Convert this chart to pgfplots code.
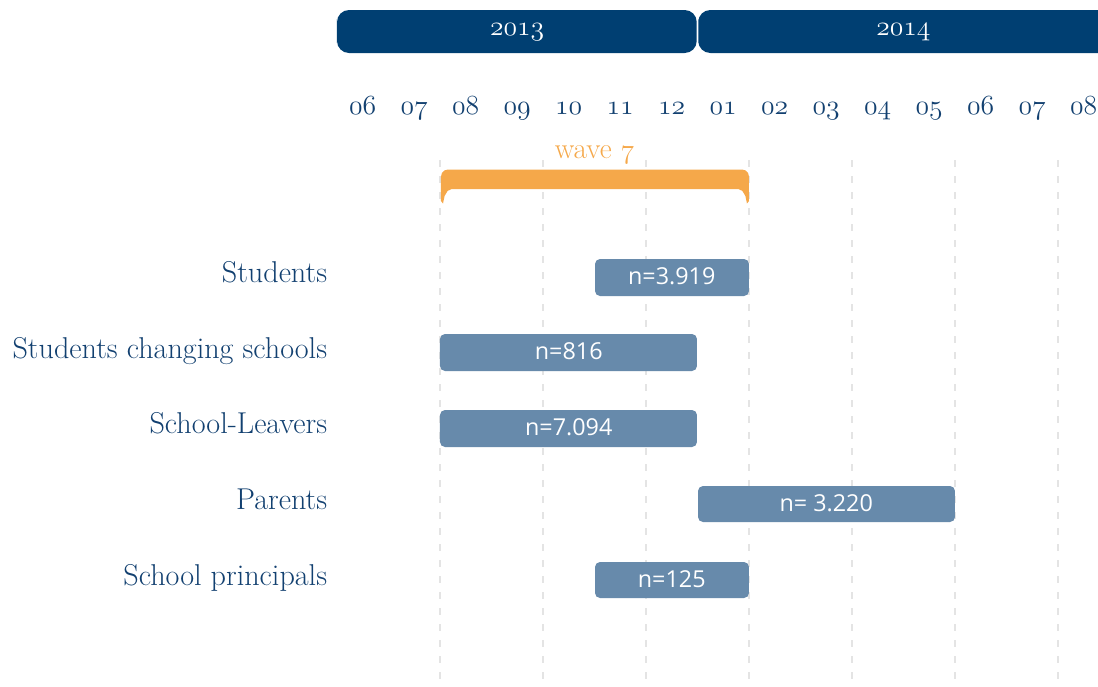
\documentclass[border=0pt]{standalone}
\usepackage{pgfplots}
\pgfplotsset{compat=1.18}
\usepackage{fontspec}
\newfontfamily\sansf{Open Sans}
\definecolor{yearblue}{RGB}{0,63,114}
\definecolor{textblue}{RGB}{18,64,112}
\definecolor{barblue}{RGB}{103,138,171}
\definecolor{waveorange}{RGB}{245,168,74}
\definecolor{gridc}{RGB}{228,228,228}
\newcommand\osn[1]{$\mathnormal{#1}$}
% x0, x1, ytop, ymid, ybottom, corner radius
\newcommand\ganttbar[6]{%
  \addplot[fill=barblue, draw=none, rounded corners=#6] coordinates {(#1,#4) (#1,#3) (#2,#3) (#2,#5) (#1,#5)} -- cycle;}
\begin{document}
\begin{tikzpicture}
\begin{axis}[
  name=ax, scale only axis, width=570.75pt, height=514.5pt,
  xmin=0, xmax=14.777, ymin=0, ymax=686, y dir=reverse,
  axis line style={draw=none}, major tick length=0pt,
  xtick=\empty,
  ytick={282,358,433,509,585},
  yticklabels={Students, Students changing schools, School-Leavers, Parents, School principals},
  yticklabel style={anchor=base east, font=\fontsize{22.6}{26}\selectfont, text=textblue, xshift=-3.9pt},
  clip=true, no markers,
]
% dashed grid
\pgfplotsinvokeforeach{2,4,6,8,10,12,14}{
  \addplot[gridc, line width=1.5pt, dash pattern=on 5.25pt off 6.75pt] coordinates {(#1,160) (#1,686)};
}
% year bars
\addplot[fill=yearblue, draw=none, rounded corners=9pt] coordinates {(0,31) (0,10) (6.985,10) (6.985,53) (0,53)} -- cycle;
\addplot[fill=yearblue, draw=none, rounded corners=9pt] coordinates {(7.015,31) (7.015,10) (15.3,10) (15.3,53) (7.015,53)} -- cycle;
\addplot[only marks, mark=none, point meta=explicit symbolic,
  nodes near coords={\osn{\pgfplotspointmeta}},
  every node near coord/.append style={anchor=base, text=white, font=\fontsize{20}{24}\selectfont}]
  table[meta=label] {
x y label
3.5 35 2013
11 35 2014
};
% months
\addplot[only marks, mark=none, point meta=explicit symbolic,
  nodes near coords={\osn{\pgfplotspointmeta}},
  every node near coord/.append style={anchor=base, text=textblue, font=\fontsize{20}{24}\selectfont}]
  table[meta=label] {
x y label
0.5 114 06
1.5 114 07
2.5 114 08
3.5 114 09
4.5 114 10
5.5 114 11
6.5 114 12
7.5 114 01
8.5 114 02
9.5 114 03
10.5 114 04
11.5 114 05
12.5 114 06
13.5 114 07
14.5 114 08
};
% wave bracket
\addplot[fill=waveorange, draw=none] coordinates {
  (2.0194,201) (2.0194,176.5) (2.0377,173) (2.0874,170.44) (2.1553,169.5)
  (7.8641,169.5) (7.9320,170.44) (7.9817,173) (8.0000,176.5) (8.0000,201)
  (7.9611,203.5) (7.9301,196) (7.8718,190.9) (7.7922,189)
  (2.2272,189) (2.1476,190.9) (2.0893,196) (2.0583,203.5)} -- cycle;
\addplot[only marks, mark=none, point meta=explicit symbolic,
  nodes near coords={wave \osn{\pgfplotspointmeta}},
  every node near coord/.append style={anchor=base, text=waveorange, font=\fontsize{22}{26}\selectfont}]
  table[meta=label] {
x y label
5 158 7
};
% gantt bars
\ganttbar{5.01}{8}{259}{277}{296}{3.75pt}
\ganttbar{2}{6.99}{334}{352}{371}{3.75pt}
\ganttbar{2}{6.99}{410}{428}{447}{3.75pt}
\ganttbar{7.01}{12}{486}{504}{522}{3.75pt}
\ganttbar{5.01}{8}{562}{580}{598}{3.75pt}
\addplot[only marks, mark=none, point meta=explicit symbolic,
  nodes near coords={\pgfplotspointmeta},
  every node near coord/.append style={anchor=center, text=white, font=\sansf\fontsize{17.5}{20}\selectfont}]
  table[meta=label, col sep=comma, row sep=\\, x expr=(\thisrow{x0}+\thisrow{x1})/2, y=y] {
x0,x1,y,label\\
5,8,276,n=3.919\\
2,7,351,n=816\\
2,7,427,n=7.094\\
7,12,503,n= 3.220\\
5,8,579,n=125\\
};
\end{axis}
\pgfresetboundingbox
\useasboundingbox ([xshift=-252.75pt]ax.south west) rectangle (ax.north east);
\end{tikzpicture}
\end{document}
